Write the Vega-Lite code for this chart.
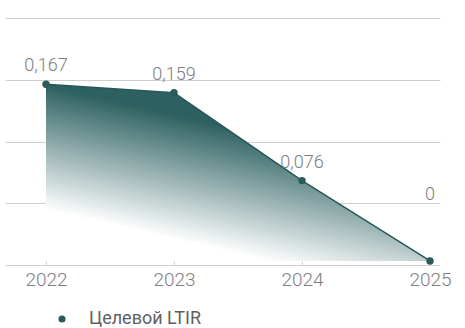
{
  "$schema": "https://vega.github.io/schema/vega-lite/v6.json",
  "width": 435,
  "height": 247,
  "autosize": "none",
  "padding": {"left": 5, "top": 18, "right": 25, "bottom": 63},
  "background": "white",
  "data": {
    "values": [
      {"year": 2022, "value": 0.167, "label": "0,167", "series": "Целевой LTIR"},
      {"year": 2023, "value": 0.159, "label": "0,159", "series": "Целевой LTIR"},
      {"year": 2024, "value": 0.076, "label": "0,076", "series": "Целевой LTIR"},
      {"year": 2025, "value": 0, "label": "0", "series": "Целевой LTIR"}
    ]
  },
  "encoding": {
    "x": {
      "field": "year",
      "type": "quantitative",
      "scale": {"domain": [2021.6797, 2025.078], "nice": false, "zero": false},
      "axis": {
        "title": null,
        "labelAngle": 0,
        "domain": false,
        "ticks": true,
        "tickSize": -4,
        "tickColor": "#d6d6d6",
        "values": [2022, 2023, 2024, 2025],
        "format": "d",
        "labelFlush": false,
        "labelOverlap": false,
        "labelFont": "Roboto",
        "labelFontWeight": 300,
        "labelFontSize": 19,
        "labelColor": "#7d7d7d",
        "labelPadding": 9,
        "grid": false
      }
    },
    "y": {
      "field": "value",
      "type": "quantitative",
      "scale": {"domain": [-0.0038, 0.2297], "nice": false, "zero": false},
      "axis": {
        "title": null,
        "labels": false,
        "ticks": false,
        "domain": false,
        "grid": true,
        "gridColor": "#cfcfcf",
        "gridWidth": 1,
        "values": [-0.0038, 0.054575, 0.11295, 0.171325, 0.2297]
      }
    }
  },
  "layer": [
    {
      "mark": {
        "type": "area",
        "fill": {
          "gradient": "linear",
          "x1": 0, "y1": 0, "x2": -0.285, "y2": 0.566,
          "stops": [
            {"offset": 0, "color": "#2d6060"},
            {"offset": 1, "color": "#ffffff"}
          ]
        },
        "opacity": 1
      },
      "encoding": {"y2": {"datum": 0}}
    },
    {
      "mark": {"type": "line", "color": "#285858", "strokeWidth": 1.5},
      "encoding": {}
    },
    {
      "mark": {"type": "point", "filled": true, "opacity": 1, "size": 55},
      "encoding": {
        "color": {
          "field": "series",
          "type": "nominal",
          "scale": {"range": ["#2a5a5a"]},
          "legend": {
            "title": null,
            "orient": "none",
            "legendX": 48,
            "legendY": 292,
            "padding": 0,
            "symbolType": "circle",
            "symbolSize": 50,
            "labelFont": "Roboto",
            "labelFontSize": 18,
            "labelColor": "#5f5f5f",
            "labelOffset": 18
          }
        }
      }
    },
    {
      "transform": [{"filter": "datum.value > 0"}],
      "mark": {"type": "text", "baseline": "alphabetic", "dy": -13, "font": "Roboto", "fontWeight": 300, "fontSize": 18, "color": "#7d7d7d"},
      "encoding": {"text": {"field": "label"}}
    },
    {
      "transform": [{"filter": "datum.value == 0"}],
      "mark": {"type": "text", "baseline": "alphabetic", "dy": -61, "font": "Roboto", "fontWeight": 300, "fontSize": 18, "color": "#7d7d7d"},
      "encoding": {"text": {"field": "label"}}
    }
  ],
  "config": {"view": {"stroke": null}}
}
